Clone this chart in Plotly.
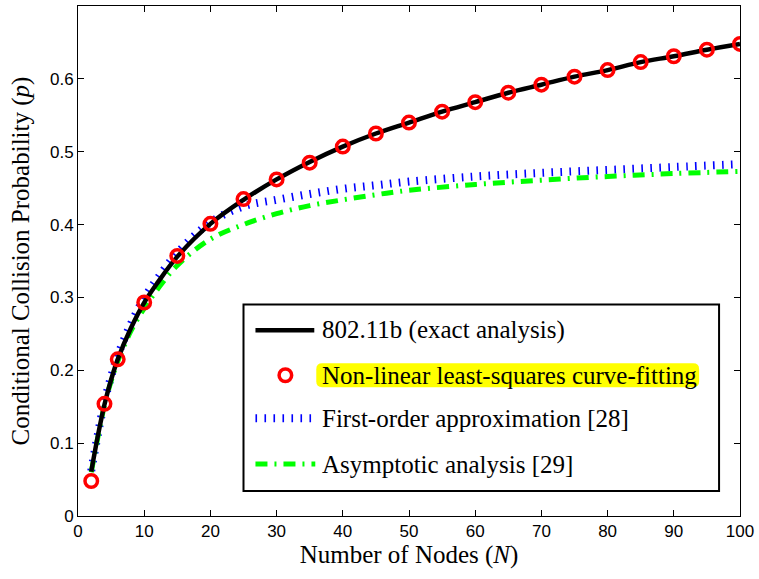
import plotly.graph_objects as go

# Number of contending nodes and collision probabilities
n_exact = [2, 3, 4, 5, 6, 8, 10, 12, 15, 20, 25, 30, 35, 40, 45, 50, 55, 60, 65, 70, 75, 80, 85, 90, 95, 100]
p_exact = [0.061, 0.110, 0.153, 0.187, 0.215, 0.258, 0.293, 0.320, 0.356, 0.401, 0.434, 0.462, 0.486, 0.507,
           0.525, 0.540, 0.555, 0.568, 0.581, 0.592, 0.603, 0.612, 0.623, 0.631, 0.640, 0.648]

n_fit = [2, 4, 6, 10, 15, 20, 25, 30, 35, 40, 45, 50, 55, 60, 65, 70, 75, 80, 85, 90, 95, 100]
p_fit = [0.048, 0.154, 0.215, 0.293, 0.357, 0.401, 0.435, 0.462, 0.485, 0.507, 0.525, 0.540, 0.555, 0.568,
         0.581, 0.592, 0.603, 0.612, 0.623, 0.631, 0.640, 0.648]

n_approx = [2, 3, 4, 5, 6, 8, 10, 12, 15, 20, 25, 30, 35, 40, 45, 50, 60, 70, 80, 90, 100]
p_first_order = [0.062, 0.112, 0.157, 0.191, 0.220, 0.264, 0.299, 0.326, 0.361, 0.403, 0.425, 0.434, 0.442,
                 0.449, 0.454, 0.459, 0.466, 0.471, 0.475, 0.479, 0.483]
p_asymptotic = [0.060, 0.108, 0.152, 0.185, 0.212, 0.254, 0.285, 0.311, 0.344, 0.380, 0.400, 0.415, 0.426,
                0.434, 0.441, 0.447, 0.455, 0.461, 0.466, 0.470, 0.473]

legend_labels = ["802.11b (exact analysis)",
                 "Non-linear least-squares curve-fitting",
                 "First-order approximation [28]",
                 "Asymptotic analysis [29]"]

W, H = 759, 579
L, R, T, B = 78, 17, 5, 63
PW, PH = W - L - R, H - T - B


def px(x):
    return (x - L) / PW


def py(y):
    return (H - B - y) / PH


SERIF = "Liberation Serif, DejaVu Serif, serif"
SANS = "Liberation Sans, Arial, sans-serif"
TEXT_SIZE = 25

BLUE_DASH = "1.6px,7.4px"
GREEN_DASH = "12px,7px,2px,7px"

fig = go.Figure()

fig.add_trace(go.Scatter(x=n_approx, y=p_first_order, mode="lines",
                         line=dict(color="#0000ff", width=8, dash=BLUE_DASH, shape="spline"),
                         name=legend_labels[2], showlegend=False))
fig.add_trace(go.Scatter(x=n_approx, y=p_asymptotic, mode="lines",
                         line=dict(color="#00ff00", width=5, dash=GREEN_DASH, shape="spline"),
                         name=legend_labels[3], showlegend=False))
fig.add_trace(go.Scatter(x=n_exact, y=p_exact, mode="lines",
                         line=dict(color="black", width=4.5, shape="spline"),
                         name=legend_labels[0], showlegend=False))
fig.add_trace(go.Scatter(x=n_fit, y=p_fit, mode="markers",
                         marker=dict(symbol="circle-open", size=12.5, color="red", line=dict(width=3.5, color="red")),
                         name=legend_labels[1], showlegend=False))

# Hand-built legend box
shapes = []
annotations = []
box = dict(x0=244, x1=721, y0=304, y1=491)
shapes.append(dict(type="rect", xref="paper", yref="paper", layer="above",
                   x0=px(box["x0"]), x1=px(box["x1"]), y0=py(box["y1"]), y1=py(box["y0"]),
                   fillcolor="white", line=dict(color="black", width=2)))

# Yellow highlight behind the curve-fitting label (rounded rectangle)
hx0, hx1, hy0, hy1, r = 317, 701, 363, 387, 6
path = (f"M {px(hx0 + r)},{py(hy0)} L {px(hx1 - r)},{py(hy0)} "
        f"Q {px(hx1)},{py(hy0)} {px(hx1)},{py(hy0 + r)} L {px(hx1)},{py(hy1 - r)} "
        f"Q {px(hx1)},{py(hy1)} {px(hx1 - r)},{py(hy1)} L {px(hx0 + r)},{py(hy1)} "
        f"Q {px(hx0)},{py(hy1)} {px(hx0)},{py(hy1 - r)} L {px(hx0)},{py(hy0 + r)} "
        f"Q {px(hx0)},{py(hy0)} {px(hx0 + r)},{py(hy0)} Z")
shapes.append(dict(type="path", path=path, xref="paper", yref="paper", layer="above",
                   fillcolor="#ffff00", line=dict(width=0)))

rows = [330, 375, 418, 464]
shapes.append(dict(type="line", xref="paper", yref="paper", layer="above",
                   x0=px(256), x1=px(315), y0=py(rows[0]), y1=py(rows[0]),
                   line=dict(color="black", width=4.5)))
shapes.append(dict(type="circle", xref="paper", yref="paper", layer="above",
                   x0=px(286 - 6.3), x1=px(286 + 6.3), y0=py(rows[1] + 6.3), y1=py(rows[1] - 6.3),
                   line=dict(color="red", width=3.5)))
shapes.append(dict(type="line", xref="paper", yref="paper", layer="above",
                   x0=px(256), x1=px(313), y0=py(rows[2]), y1=py(rows[2]),
                   line=dict(color="#0000ff", width=8, dash=BLUE_DASH)))
shapes.append(dict(type="line", xref="paper", yref="paper", layer="above",
                   x0=px(256), x1=px(316), y0=py(rows[3]), y1=py(rows[3]),
                   line=dict(color="#00ff00", width=5, dash=GREEN_DASH)))

for label, yrow in zip(legend_labels, rows):
    annotations.append(dict(text=label, xref="paper", yref="paper", x=px(321), y=py(yrow),
                            xanchor="left", yanchor="middle", showarrow=False,
                            font=dict(family=SERIF, size=TEXT_SIZE, color="black")))

axis_common = dict(showgrid=False, zeroline=False, showline=True, linecolor="black", linewidth=1,
                   mirror="ticks", ticks="inside", ticklen=6, tickcolor="black",
                   tickfont=dict(family=SANS, size=17, color="black"))

fig.update_layout(
    width=W, height=H,
    margin=dict(l=L, r=R, t=T, b=B),
    paper_bgcolor="white", plot_bgcolor="white",
    showlegend=False,
    xaxis=dict(range=[0, 100], dtick=10, tick0=0,
               title=dict(text="Number of Nodes (<i>N</i>)",
                          font=dict(family=SERIF, size=TEXT_SIZE, color="black"), standoff=2),
               **axis_common),
    yaxis=dict(range=[0, 0.7], dtick=0.1, tick0=0,
               title=dict(text="Conditional Collision Probability (<i>p</i>)",
                          font=dict(family=SERIF, size=TEXT_SIZE, color="black"), standoff=13),
               **axis_common),
    shapes=shapes,
    annotations=annotations,
)

fig.write_html("out.html")
